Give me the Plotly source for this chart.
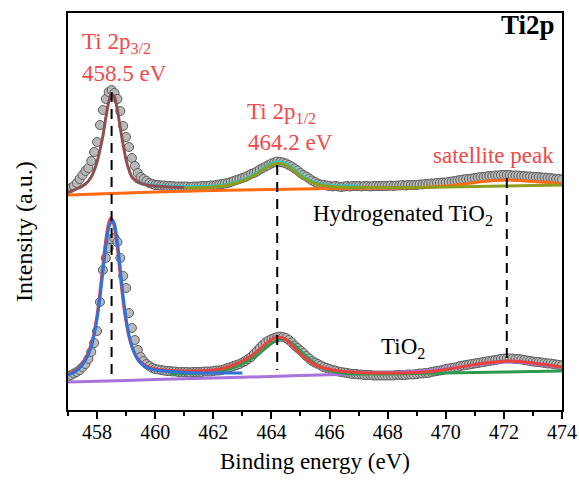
import numpy as np
import plotly.graph_objects as go

# Binding-energy grid of the measured spectra (eV)
energy = np.round(np.arange(457.0, 474.0001, 0.1), 1)

# Measured intensity (a.u.), hydrogenated TiO2 (upper, offset) spectrum
hyd_data = [
    221, 222, 224, 227, 231, 235, 239, 242, 249, 258,              # 457
    268, 285, 300, 311, 318, 320, 317, 311, 299, 284,              # 458
    273, 263, 252, 244, 237, 233, 231, 229, 227, 226,              # 459
    225, 225, 224.5, 224.5, 224, 224, 224, 223.5, 223.5, 223.5,    # 460
    223.5, 223.5, 223, 223.5, 223.5, 223.5, 224, 224, 224, 224.5,  # 461
    224.5, 225, 225.5, 226, 226.5, 227, 228, 229, 230, 231,        # 462
    232, 233, 234.5, 236, 237, 238.5, 240.5, 242, 243.5, 245,      # 463
    246.5, 247.5, 248.3, 248, 247.5, 246.5, 245, 243.5, 241.5, 239.5,  # 464
    237, 235, 233.5, 231.5, 229.5, 228, 226.5, 225.5, 225, 224.5,  # 465
    224, 223.5, 224, 223.5, 223, 223.5, 224, 223.5, 224, 224,      # 466
    224, 223.5, 224, 224, 223.5, 224, 224, 224, 224, 224,          # 467
    224, 224.5, 224, 224.5, 224.5, 225, 224.5, 225, 225, 225,      # 468
    225, 225.5, 225.5, 226, 226, 226.5, 226.5, 227, 227, 227.5,    # 469
    227.5, 228, 228.5, 229, 229.5, 230, 230.5, 231, 231, 231.5,    # 470
    232, 232.5, 233, 233, 233.5, 234, 234, 234.5, 234.5, 235,      # 471
    235, 235, 235, 234.5, 234.5, 234.5, 234, 234, 233.5, 233.5,    # 472
    233.3, 233, 233, 232.5, 232.5, 232, 232, 231.5, 231, 231,      # 473
    230.5,                                                          # 474
]

# Measured intensity (a.u.), pristine TiO2 (lower) spectrum
tio2_data = [
    33, 35, 36.5, 38, 40, 43, 46, 51, 58, 67,                      # 457
    79, 108, 140, 152, 162, 171, 172, 168, 152, 134,               # 458
    122, 97, 82, 70, 60, 53, 49, 46, 44, 42,                       # 459
    41, 40.5, 40, 39.5, 39, 39, 38.5, 38.5, 38, 38,                # 460
    38, 38, 37.5, 38, 38, 38, 38, 38.5, 38.5, 38.5,                # 461
    39, 39.5, 39.5, 40, 41, 42, 43, 44, 45, 46,                    # 462
    47.5, 49, 51, 53, 56, 59, 62, 65, 67.5, 69.5,                  # 463
    71, 72, 73, 73.5, 73, 72, 70, 67.5, 64.5, 62,                  # 464
    59.5, 57, 54, 51.5, 49, 47.5, 46, 44.5, 43, 42,                # 465
    41, 40, 39.5, 38.5, 38, 37.5, 37, 36.5, 36, 36,                # 466
    35.5, 35.5, 35, 35, 35, 34.5, 34.5, 34.5, 34.5, 34.5,          # 467
    34.5, 34.5, 34.5, 35, 35, 35, 35, 35.5, 35.5, 35.5,            # 468
    36, 36.5, 36.5, 37, 37, 38, 38.5, 39, 39.5, 40,                # 469
    41, 41.5, 42, 42.5, 43, 44, 44.5, 45, 45.5, 46,                # 470
    46.5, 47, 47.5, 48, 48.5, 49, 49.5, 50, 50.5, 51,              # 471
    51.5, 51.5, 51.5, 51.5, 51, 51, 50.5, 50, 49.5, 49,            # 472
    48.5, 48, 48, 47.5, 47, 46.5, 46.5, 46, 45.5, 45,              # 473
    44.5,                                                           # 474
]

# ---- Fitted components, hydrogenated TiO2 ----
hyd_p32_x = [457.0, 457.3, 457.6, 457.8, 458.0, 458.1, 458.2, 458.3, 458.4, 458.5,
             458.6, 458.7, 458.8, 458.9, 459.0, 459.1, 459.2, 459.4, 459.7, 460.0,
             460.5, 461.0]
hyd_p32_y = [218, 221, 226, 233, 248, 260, 274, 292, 308, 316,
             313, 300, 282, 265, 250, 240, 233, 228, 225, 224,
             223, 222.5]

hyd_env_x = [459.3, 459.6, 460.0, 461.0, 462.0, 462.5, 463.0, 463.5, 463.8, 464.0,
             464.2, 464.4, 464.6, 464.8, 465.0, 465.3, 465.6, 466.0, 466.5, 467.0]
hyd_env_y = [229, 226, 224.5, 223.5, 224, 226, 230, 237.5, 243.5, 246.5,
             248, 247.5, 244.5, 240.5, 235.5, 230, 226.5, 224.5, 224, 224]

hyd_p12_x = [461.0, 462.0, 462.5, 463.0, 463.5, 463.8, 464.0, 464.2, 464.4, 464.6,
             464.8, 465.0, 465.3, 465.6, 466.0, 467.0, 468.0, 469.0, 470.0, 471.0,
             472.0, 473.0, 474.0]
hyd_p12_y = [222, 223, 225, 229, 236, 242, 245, 246.5, 246, 243,
             239, 234, 229, 225.5, 223.5, 222.5, 222.5, 222.5, 223, 223.5,
             224, 224.5, 225]

hyd_bg_x = [457.0, 458.0, 460.0, 462.0, 464.0, 466.0, 468.0, 469.0, 470.0, 470.5,
            471.0, 471.5, 472.1, 472.5, 473.0, 473.5, 474.0]
hyd_bg_y = [215, 216, 218, 219.5, 220.5, 221.5, 222, 222.5, 224, 225.5,
            227.5, 229, 230, 229.5, 228.5, 227.5, 226.5]

# ---- Fitted components, TiO2 ----
tio2_env_x = [457.0, 457.2, 457.4, 457.6, 457.8, 457.9, 458.0, 458.1, 458.2, 458.3,
              458.4, 458.47, 458.55, 458.6, 458.7, 458.8, 458.9, 459.0, 459.1, 459.2,
              459.3, 459.4, 459.6, 459.8, 460.0, 460.5, 461.0, 461.5, 462.0, 462.4,
              462.7, 463.0, 463.3, 463.6, 463.8, 464.0, 464.2, 464.4, 464.6, 464.8,
              465.0, 465.2, 465.4, 465.6, 465.8, 466.0, 466.5, 467.0, 468.0, 469.0,
              469.5, 470.0, 470.5, 471.0, 471.5, 472.1, 472.5, 473.0, 473.5, 474.0]
tio2_env_y = [36, 38.5, 43, 51, 66, 78, 95, 118, 145, 170,
              187, 192, 188, 182, 162, 134, 108, 88, 73, 63,
              56, 51, 45.5, 42.5, 41, 39.5, 39, 39, 40, 42,
              45, 49, 54, 61, 66, 70.5, 73, 72, 68, 62,
              56, 51, 47, 44, 42, 40.5, 38.5, 37.5, 37, 37.5,
              38.5, 40.5, 43, 45.5, 47.5, 49, 48.5, 47, 45, 43]

tio2_p32_x = [457.0, 457.2, 457.4, 457.6, 457.8, 457.9, 458.0, 458.1, 458.2, 458.3,
              458.4, 458.52, 458.6, 458.7, 458.8, 458.9, 459.0, 459.1, 459.2, 459.3,
              459.4, 459.6, 459.8, 460.0, 460.5, 461.0, 461.5, 462.0, 462.5, 463.0]
tio2_p32_y = [35, 37.5, 42, 49.5, 63, 75, 91, 112, 138, 163,
              182, 190, 186, 168, 141, 113, 91, 75, 64, 56,
              50.5, 44.5, 41.5, 40, 38.5, 37.5, 37, 37, 37, 37]

tio2_p12_x = [460.5, 461.0, 461.5, 462.0, 462.4, 462.7, 463.0, 463.3, 463.6, 463.8,
              464.0, 464.2, 464.35, 464.5, 464.7, 464.9, 465.1, 465.3, 465.5, 465.7,
              465.9, 466.2, 466.6, 467.0, 468.0, 469.0, 470.0, 471.0, 472.0, 473.0,
              474.0]
tio2_p12_y = [36, 36.5, 37, 38, 40, 42.5, 46, 51, 57, 62,
              66.5, 70, 71.5, 70.5, 67, 62, 56.5, 51, 46.5, 43,
              40.5, 38, 36.5, 36, 36, 36.5, 37, 37.5, 38, 38.5,
              39]

tio2_bg_x = [457.0, 458.0, 460.0, 462.0, 464.0, 466.0, 467.5, 468.5, 469.5, 470.0,
             470.5, 471.0, 471.5, 472.1, 472.5, 473.0, 473.5, 474.0]
tio2_bg_y = [28, 28.8, 30.4, 32, 33.6, 35.3, 37, 38, 39.5, 41,
             43, 45, 47, 48.3, 48, 46.5, 44.5, 42.5]

# Peak-position guide lines (eV) and their vertical extent (a.u.)
guide_x = [458.5, 464.2, 472.1]
guide_top = [318, 245, 232]
guide_bottom = [32, 40, 45]

# Tick labels
x_ticks = [458, 460, 462, 464, 466, 468, 470, 472, 474]

FONT = "Liberation Serif, Times New Roman, serif"
RED_TXT = "#F04A4A"

fig = go.Figure()

marker = dict(size=9, color="#b9b9b9", line=dict(color="#5a5a5a", width=1))
fig.add_trace(go.Scatter(x=energy, y=hyd_data, mode="markers", marker=marker, hoverinfo="skip"))
fig.add_trace(go.Scatter(x=energy, y=tio2_data, mode="markers", marker=marker, hoverinfo="skip"))

def curve(x, y, color, w=3):
    fig.add_trace(go.Scatter(x=x, y=y, mode="lines",
                             line=dict(color=color, width=w, shape="spline", smoothing=0.6),
                             hoverinfo="skip"))

# upper fits
curve(hyd_bg_x, hyd_bg_y, "#FF6A13")
curve(hyd_env_x, hyd_env_y, "#2ec4c4")
curve(hyd_p12_x, hyd_p12_y, "#8f9d1c")
curve(hyd_p32_x, hyd_p32_y, "#8E4F52")
# lower fits
curve(tio2_bg_x, tio2_bg_y, "#A874DC")
curve(tio2_p12_x, tio2_p12_y, "#2E9A4E")
curve(tio2_env_x, tio2_env_y, "#E8413F")
curve(tio2_p32_x, tio2_p32_y, "#2F72DC")

for gx, gt, gb in zip(guide_x, guide_top, guide_bottom):
    fig.add_trace(go.Scatter(x=[gx, gx], y=[gt, gb], mode="lines",
                             line=dict(color="black", width=2, dash="10px,7px"), hoverinfo="skip"))

def label(x, y, text, color, size=23, anchor="left", bold=False):
    fig.add_annotation(x=x, y=y, xref="x", yref="y", text=("<b>%s</b>" % text) if bold else text,
                       showarrow=False, xanchor=anchor, yanchor="middle", borderpad=0,
                       font=dict(family=FONT, size=size, color=color))

label(457.44, 367, "Ti 2p<sub>3/2</sub>", RED_TXT)
label(457.44, 337, "458.5 eV", RED_TXT)
label(463.14, 297, "Ti 2p<sub>1/2</sub>", RED_TXT)
label(463.16, 268, "464.2 eV", RED_TXT)
label(469.53, 255, "satellite peak", RED_TXT)
label(465.4, 195, "Hydrogenated TiO<sub>2</sub>", "black")
label(467.72, 62, "TiO<sub>2</sub>", "black")
label(473.8, 385, "Ti2p", "black", size=27, anchor="right", bold=True)

# y-axis title as rotated text, placed as in the reference
fig.add_annotation(x=-0.088, y=0.45, xref="paper", yref="paper", text="Intensity (a.u.)",
                   textangle=-90, showarrow=False, xanchor="center", yanchor="middle",
                   font=dict(family=FONT, size=24, color="black"))

fig.update_layout(
    width=579, height=482,
    margin=dict(l=68, r=17, t=13, b=72),
    paper_bgcolor="white", plot_bgcolor="white",
    showlegend=False,
    font=dict(family=FONT, color="black"),
    xaxis=dict(range=[457, 474], tickvals=x_ticks, ticktext=[str(t) for t in x_ticks],
               ticks="outside", ticklen=7, tickwidth=1.5, tickcolor="black",
               ticklabelstandoff=-4,
               minor=dict(dtick=1, tick0=457, ticks="outside", ticklen=4, tickwidth=1.5, tickcolor="black"),
               showline=True, linecolor="black", linewidth=2, mirror=True,
               showgrid=False, zeroline=False, automargin=False,
               tickfont=dict(size=20, family=FONT),
               title=dict(text="Binding energy (eV)", font=dict(size=23, family=FONT), standoff=11)),
    yaxis=dict(range=[0, 397], showticklabels=False, ticks="",
               showline=True, linecolor="black", linewidth=2, mirror=True,
               showgrid=False, zeroline=False, automargin=False),
)

fig.write_html("out.html", config={"displayModeBar": False},
               post_script="document.body.style.margin='0';document.body.style.padding='0';")
